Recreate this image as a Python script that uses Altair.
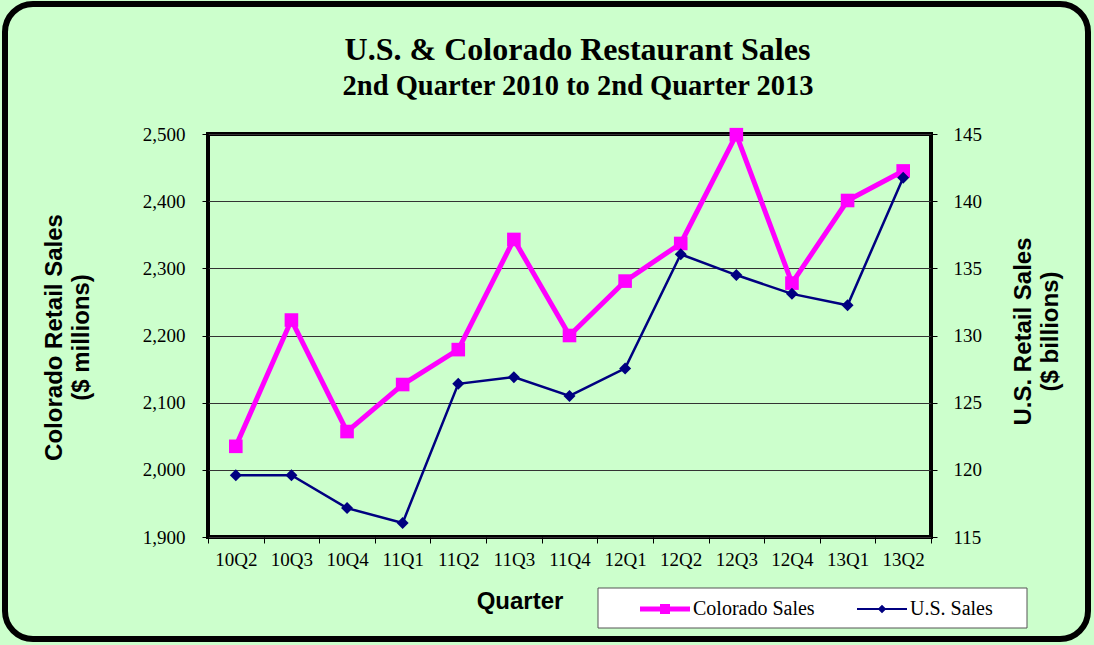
import altair as alt
import pandas as pd

# ---- data ----
quarters = ["10Q2", "10Q3", "10Q4", "11Q1", "11Q2", "11Q3", "11Q4",
            "12Q1", "12Q2", "12Q3", "12Q4", "13Q1", "13Q2"]
colorado = [2035, 2223, 2057, 2127, 2179, 2343, 2200, 2281, 2337, 2499, 2278, 2401, 2445]
us_sales = [119.6, 119.6, 117.15, 116.05, 126.4, 126.9, 125.5, 127.55, 136.05, 134.5, 133.1, 132.25, 141.75]

co_ticks = [1900, 2000, 2100, 2200, 2300, 2400, 2500]
us_ticks = [115, 120, 125, 130, 135, 140, 145]

series_names = ["Colorado Sales", "U.S. Sales"]
series_colors = ["#FF00FF", "#000080"]
legend_paths = [
    "M-1,-0.1H1V0.1H-1Z M-0.2,-0.2H0.2V0.2H-0.2Z",
    "M-1,-0.04H1V0.04H-1Z M0,-0.17L0.17,0L0,0.17L-0.17,0Z",
]

title_text = "U.S. & Colorado Restaurant Sales"
subtitle_text = "2nd Quarter 2010 to 2nd Quarter 2013"

MAGENTA = "#FF00FF"
NAVY = "#000080"
SERIF = "Liberation Serif"
SANS = "Liberation Sans"

df = pd.DataFrame({"quarter": quarters, "co": colorado, "us": us_sales})
legend_df = pd.DataFrame({"series": series_names})
one_df = pd.DataFrame({"title": [title_text], "subtitle": [subtitle_text]})

x_enc = alt.X(
    "quarter:N", sort=quarters, bandPosition=0.5,
    scale=alt.Scale(type="band", paddingInner=0, paddingOuter=0),
    axis=alt.Axis(
        title="Quarter", tickBand="extent", labelAngle=0, domain=False, grid=False,
        tickSize=6, tickColor="black", tickWidth=1, labelPadding=7,
        labelFont=SERIF, labelFontSize=19, labelColor="black",
        titleFont=SANS, titleFontSize=24, titleFontWeight="bold", titleColor="black",
        titleX=311.5, titleY=71, titleBaseline="alphabetic", titleAlign="center",
    ),
)

y_co = alt.Y(
    "co:Q", scale=alt.Scale(domain=[1900, 2500], nice=False, zero=False),
    axis=alt.Axis(
        orient="left", values=co_ticks, format=",d", grid=True,
        gridColor="#333333", gridWidth=1, domain=False,
        tickSize=6, tickColor="black", tickWidth=1, labelPadding=17,
        labelFont=SERIF, labelFontSize=19, labelColor="black",
        title=["Colorado Retail Sales", "($ millions)"],
        titleFont=SANS, titleFontSize=24, titleFontWeight="bold", titleColor="black",
        titleAngle=270, titleX=-147, titleY=203, titleAlign="center",
        titleBaseline="alphabetic", titleLineHeight=27,
    ),
)

y_us = alt.Y(
    "us:Q", scale=alt.Scale(domain=[115, 145], nice=False, zero=False),
    axis=alt.Axis(
        orient="right", values=us_ticks, format="d", grid=False, domain=False,
        tickSize=6, tickColor="black", tickWidth=1, labelPadding=16,
        labelFont=SERIF, labelFontSize=19, labelColor="black",
        title=["U.S. Retail Sales", "($ billions)"],
        titleFont=SANS, titleFontSize=24, titleFontWeight="bold", titleColor="black",
        titleAngle=270, titleX=99, titleY=197, titleAlign="center",
        titleBaseline="alphabetic", titleLineHeight=27,
    ),
)

base = alt.Chart(df)

co_layer = alt.layer(
    base.mark_line(color=MAGENTA, strokeWidth=5).encode(x=x_enc, y=y_co),
    base.mark_point(shape="square", filled=True, size=185, color=MAGENTA, opacity=1).encode(x=x_enc, y=y_co),
)

us_layer = alt.layer(
    base.mark_line(color=NAVY, strokeWidth=2.5).encode(x=x_enc, y=y_us),
    base.mark_point(shape="diamond", filled=True, size=144, color=NAVY, opacity=1).encode(x=x_enc, y=y_us),
)

# outer rounded frame of the chart
frame = alt.Chart(one_df).mark_rect(
    fillOpacity=0, stroke="black", strokeWidth=6, cornerRadius=28
).encode(x=alt.value(-203), x2=alt.value(880), y=alt.value(-130), y2=alt.value(505))

# titles
title_mark = alt.Chart(one_df).mark_text(
    font=SERIF, fontSize=32, fontWeight="bold", color="black", align="center", baseline="alphabetic"
).encode(text="title:N", x=alt.value(369.5), y=alt.value(-74))

subtitle_mark = alt.Chart(one_df).mark_text(
    font=SERIF, fontSize=28.5, fontWeight="bold", color="black", align="center", baseline="alphabetic"
).encode(text="subtitle:N", x=alt.value(370), y=alt.value(-39))

# legend box
legend_box = alt.Chart(one_df).mark_rect(
    fill="white", stroke="#555555", strokeWidth=1
).encode(x=alt.value(390), x2=alt.value(819), y=alt.value(454), y2=alt.value(494))

legend_layer = alt.Chart(legend_df).mark_point(filled=True, opacity=1, size=2500).encode(
    color=alt.Color("series:N", scale=alt.Scale(domain=series_names, range=series_colors), title=None),
    shape=alt.Shape("series:N", scale=alt.Scale(domain=series_names, range=legend_paths), title=None),
).transform_filter("false")

chart = alt.layer(
    frame, title_mark, subtitle_mark, legend_box, co_layer, us_layer, legend_layer
).resolve_scale(
    y="independent"
).properties(
    width=723, height=403,
    padding={"left": 208, "top": 134, "right": 163, "bottom": 108},
    autosize=alt.AutoSizeParams(type="none"),
).configure(
    background="#CCFFCC"
).configure_view(
    fill="white", stroke="black", strokeWidth=4
).configure_legend(
    orient="none", legendX=432, legendY=450, direction="horizontal",
    padding=0, symbolSize=2500, symbolStrokeWidth=0, labelOffset=3,
    columnPadding=42, labelFont=SERIF, labelFontSize=20, labelColor="black",
    labelLimit=0,
)

chart.save("out.html", embed_options={"renderer": "svg", "actions": False})
